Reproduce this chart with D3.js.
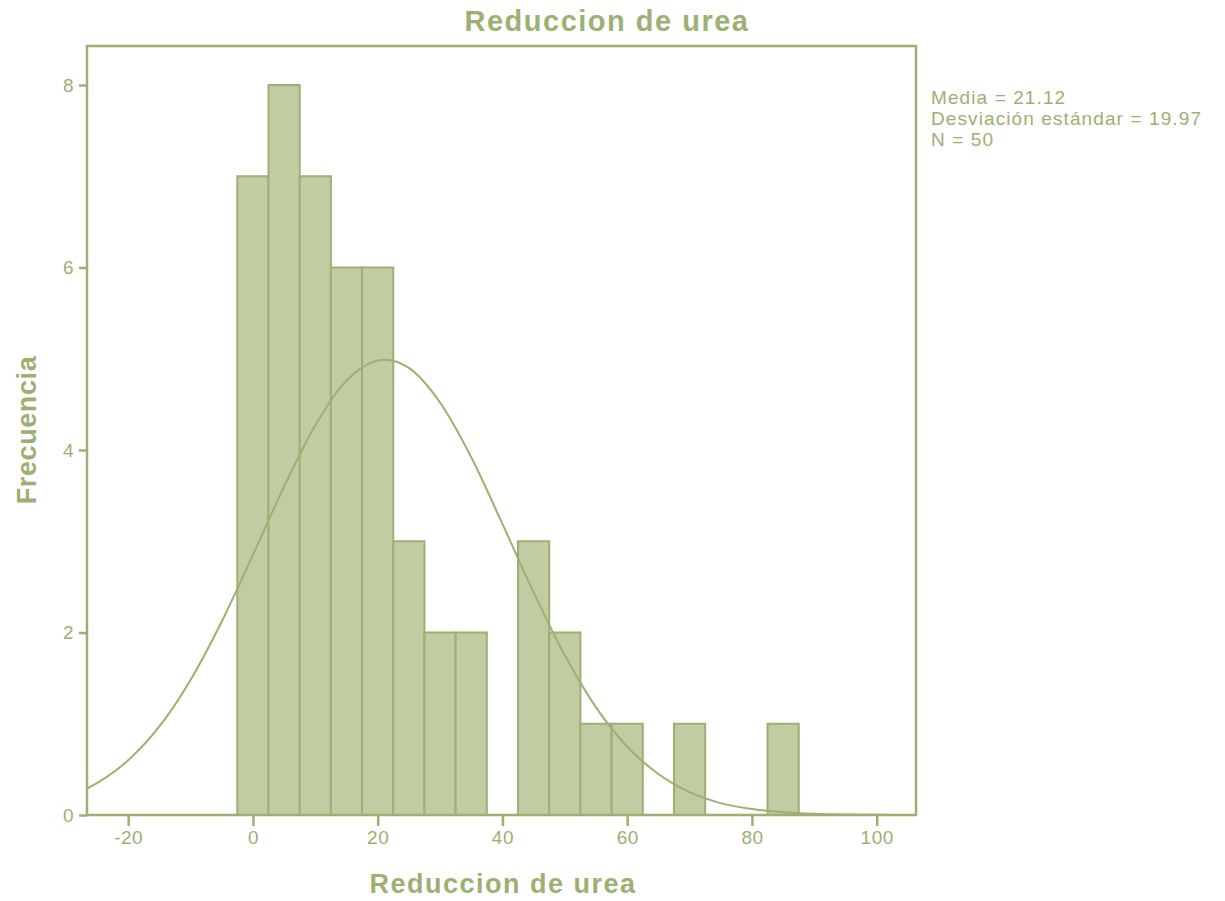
<!DOCTYPE html>
<html>
<head>
<meta charset="utf-8">
<script src="https://cdn.jsdelivr.net/npm/d3@7"></script>
<style>
body { margin: 0; background: #fff; }
text { font-family: "Liberation Sans", Arial, sans-serif; fill: #9cb072; }
</style>
</head>
<body>
<svg id="chart" width="1225" height="901"></svg>
<script>

// histogram bins (width 5)
var binStart = [-2.5, 2.5, 7.5, 12.5, 17.5, 22.5, 27.5, 32.5, 37.5, 42.5, 47.5, 52.5, 57.5, 62.5, 67.5, 72.5, 77.5, 82.5];
var binCount = [7, 8, 7, 6, 6, 3, 2, 2, 0, 3, 2, 1, 1, 0, 1, 0, 0, 1];
var binWidth = 5;

// normal curve
var curveX = [-26.6, -25, -20, -15, -10, -5, 0, 5, 10, 15, 20, 21.12, 25, 30, 35, 40, 45, 50, 55, 60, 65, 70, 75, 80, 85, 90, 95, 100, 106.3];
var curveY = [0.29, 0.35, 0.60, 0.97, 1.48, 2.12, 2.85, 3.60, 4.27, 4.76, 4.98, 4.99, 4.90, 4.52, 3.92, 3.19, 2.44, 1.75, 1.18, 0.75, 0.45, 0.25, 0.13, 0.065, 0.03, 0.013, 0.005, 0.002, 0.0005];

var xTicks = [-20, 0, 20, 40, 60, 80, 100];
var yTicks = [0, 2, 4, 6, 8];
var statsLines = ["Media = 21.12", "Desviación estándar = 19.97", "N = 50"];

var green = "#9cb072",
    fillc = "#c1cca3";

var svg = d3.select("#chart");
var pLeft = 87, pRight = 916, pTop = 46, pBottom = 815;

var xScale = d3.scaleLinear().domain([-26.6, 106.3]).range([pLeft, pRight]);
var yScale = d3.scaleLinear().domain([0, 8]).range([pBottom, 85]);

// bars
svg.append("g").selectAll("rect")
    .data(binStart.map(function(s, i) { return {x0: s, n: binCount[i]}; }).filter(function(d) { return d.n > 0; }))
    .enter()
    .append("rect")
    .attr("x", function(d) { return xScale(d.x0); })
    .attr("y", function(d) { return yScale(d.n); })
    .attr("width", function(d) { return xScale(d.x0 + binWidth) - xScale(d.x0); })
    .attr("height", function(d) { return yScale(0) - yScale(d.n); })
    .style("fill", fillc)
    .style("stroke", green)
    .style("stroke-width", 2);

// normal curve
var line = d3.line()
    .x(function(d) { return xScale(d[0]); })
    .y(function(d) { return yScale(d[1]); })
    .curve(d3.curveMonotoneX);

svg.append("path")
    .datum(curveX.map(function(x, i) { return [x, curveY[i]]; }))
    .attr("d", line)
    .style("fill", "none")
    .style("stroke", green)
    .style("stroke-width", 2);

// frame
svg.append("rect")
    .attr("x", pLeft).attr("y", pTop)
    .attr("width", pRight - pLeft).attr("height", pBottom - pTop)
    .style("fill", "none")
    .style("stroke", green)
    .style("stroke-width", 2.5);

// axes
var xAxis = d3.axisBottom(xScale).tickValues(xTicks).tickSize(11).tickPadding(5)
    .tickFormat(function(d) { return String(d); });
var gx = svg.append("g")
    .attr("transform", "translate(0," + pBottom + ")")
    .call(xAxis);
var yAxis = d3.axisLeft(yScale).tickValues(yTicks).tickSize(8).tickPadding(5);
var gy = svg.append("g")
    .attr("transform", "translate(" + pLeft + ",0)")
    .call(yAxis);

[gx, gy].forEach(function(g) {
    g.select(".domain").remove();
    g.selectAll("line").style("stroke", green).style("stroke-width", 2.5);
    g.selectAll("text").style("font-size", "19px").style("fill", green)
        .style("letter-spacing", "0.5px")
        .style("font-family", "'Liberation Sans', Arial, sans-serif");
});

// titles
svg.append("text")
    .attr("x", 607).attr("y", 31)
    .attr("text-anchor", "middle")
    .style("font-size", "29px").style("font-weight", "bold")
    .style("letter-spacing", "1.5px")
    .text("Reduccion de urea");

svg.append("text")
    .attr("x", 503).attr("y", 893)
    .attr("text-anchor", "middle")
    .style("font-size", "27px").style("font-weight", "bold")
    .style("letter-spacing", "1.5px")
    .text("Reduccion de urea");

svg.append("text")
    .attr("transform", "translate(36,430) rotate(-90)")
    .attr("text-anchor", "middle")
    .style("font-size", "27px").style("font-weight", "bold")
    .style("letter-spacing", "0.6px")
    .text("Frecuencia");

// stats box
svg.append("g").selectAll("text")
    .data(statsLines)
    .enter()
    .append("text")
    .attr("x", 931)
    .attr("y", function(d, i) { return 104 + i * 21; })
    .style("font-size", "19px")
    .style("letter-spacing", "1.1px")
    .text(function(d) { return d; });

</script>
</body>
</html>
